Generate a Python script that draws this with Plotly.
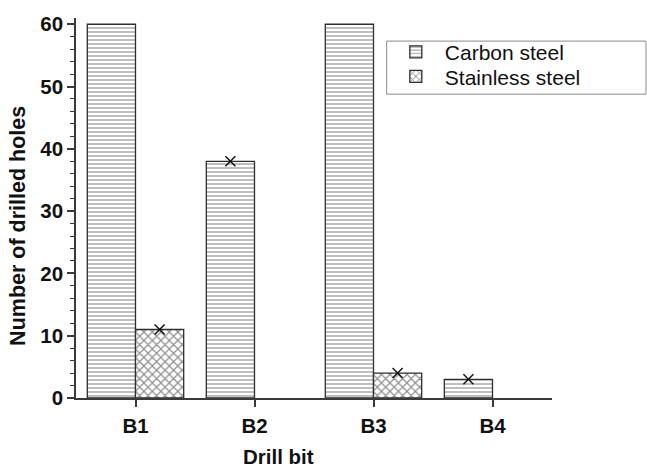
import plotly.graph_objects as go

# Drilled-hole counts per drill bit
drill_bits = ["B1", "B2", "B3", "B4"]
carbon_steel = [60, 38, 60, 3]
stainless_steel = [11, 0, 4, 0]

# Bits that failed (marked with an X at the top of the bar)
carbon_fail_bits = ["B2", "B4"]
carbon_fail_vals = [38, 3]
stainless_fail_bits = ["B1", "B3"]
stainless_fail_vals = [11, 4]

FONT = "Arial, Liberation Sans, sans-serif"
AXIS_COLOR = "#3a3a3a"
EDGE = "#2e2e2e"


def edge_widths(values, w=1.3):
    # no outline on empty bars so the baseline stays uniform
    return [w if v > 0 else 0 for v in values]


fig = go.Figure()

fig.add_trace(go.Bar(
    name="Carbon steel",
    x=drill_bits, y=carbon_steel,
    offsetgroup="carbon", legend="legend",
    marker=dict(
        color="white",
        line=dict(color=EDGE, width=edge_widths(carbon_steel)),
        pattern=dict(shape="-", fgcolor="#333333", bgcolor="white",
                     size=4, solidity=0.32),
    ),
))
fig.add_trace(go.Bar(
    name="Stainless steel",
    x=drill_bits, y=stainless_steel,
    offsetgroup="stainless", legend="legend2",
    marker=dict(
        color="white",
        line=dict(color=EDGE, width=edge_widths(stainless_steel)),
        pattern=dict(shape="x", fgcolor="#1e1e1e", bgcolor="white",
                     size=6, solidity=0.36),
    ),
))

# Failure markers, grouped to sit over the matching bar
fail_marker = dict(symbol="x-thin", size=10, line=dict(color="#111111", width=1.5))
fig.add_trace(go.Scatter(
    x=carbon_fail_bits, y=carbon_fail_vals,
    mode="markers", offsetgroup="carbon", showlegend=False, marker=fail_marker,
))
fig.add_trace(go.Scatter(
    x=stainless_fail_bits, y=stainless_fail_vals,
    mode="markers", offsetgroup="stainless", showlegend=False, marker=fail_marker,
))

legend_style = dict(
    xanchor="left", yanchor="top",
    borderwidth=0, bgcolor="rgba(0,0,0,0)",
    font=dict(size=21, family=FONT, color="#111111"),
    itemwidth=48,
)

fig.update_layout(
    width=647, height=467,
    margin=dict(l=76, r=95, t=15, b=69),
    paper_bgcolor="white", plot_bgcolor="white",
    barmode="group", bargap=0.19, bargroupgap=0,
    scattermode="group", scattergap=0.19,
    font=dict(family=FONT, color="#111111"),
    legend=dict(x=0.653, y=0.964, **legend_style),
    legend2=dict(x=0.653, y=0.8995, **legend_style),
    xaxis=dict(
        range=[-0.5, 3.5],
        showline=True, linecolor=AXIS_COLOR, linewidth=1.5,
        ticks="outside", ticklen=7, tickwidth=1.5, tickcolor=AXIS_COLOR,
        tickfont=dict(size=20.5, family=FONT, weight="bold"),
        ticklabelstandoff=2,
        showgrid=False, zeroline=False,
    ),
    yaxis=dict(
        range=[0, 61],
        tickvals=[0, 10, 20, 30, 40, 50, 60],
        showline=True, linecolor=AXIS_COLOR, linewidth=1.5,
        ticks="outside", ticklen=7, tickwidth=1.5, tickcolor=AXIS_COLOR,
        minor=dict(dtick=2, ticks="outside", ticklen=4, tickwidth=1.2,
                   tickcolor=AXIS_COLOR),
        tickfont=dict(size=20.5, family=FONT, weight="bold"),
        showgrid=False, zeroline=False,
    ),
    shapes=[dict(
        type="rect", xref="paper", yref="paper",
        x0=0.6527, x1=1.1975, y0=0.7996, y1=0.9392,
        line=dict(color="#8a8a8a", width=1), fillcolor="rgba(0,0,0,0)",
        layer="above",
    )],
    annotations=[
        dict(
            text="Drill bit", xref="paper", yref="paper",
            x=0.425, y=-0.155, xanchor="center", yanchor="middle",
            showarrow=False, font=dict(size=20.5, family=FONT, weight="bold"),
        ),
        dict(
            text="Number of drilled holes", xref="paper", yref="paper",
            x=-0.121, y=0.454, xanchor="center", yanchor="middle",
            textangle=-90, showarrow=False,
            font=dict(size=21.5, family=FONT, weight="bold"),
        ),
    ],
)

fig.write_html("out.html")
